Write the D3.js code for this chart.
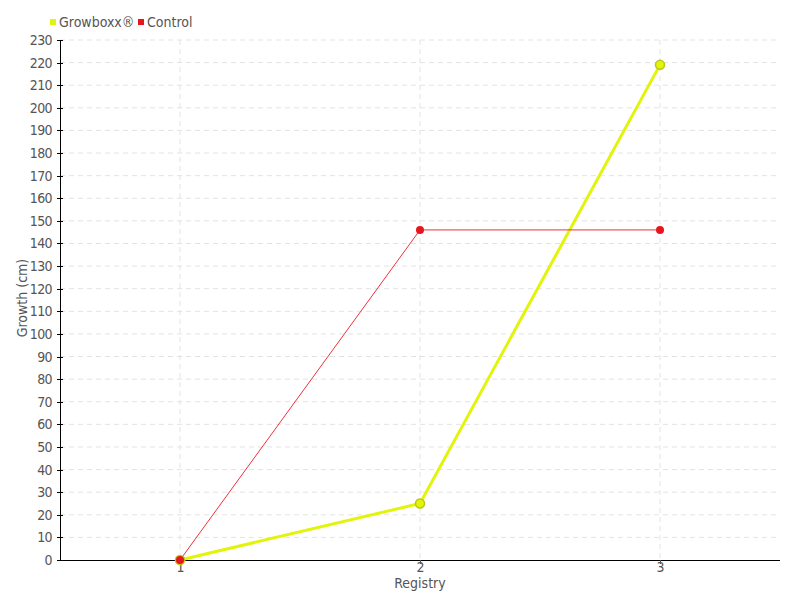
<!DOCTYPE html>
<html lang='en'>
<head>
<meta charset="utf-8">
<style>
body { margin: 0; background: #fff; }
svg text { font-family: "Liberation Sans Narrow", "DejaVu Sans Condensed", sans-serif; fill: #555; font-size: 14px; }
.grid line { stroke: #e3e3e3; stroke-dasharray: 5,4; }
.axis path, .axis line { stroke: #000; shape-rendering: crispEdges; }
</style>
</head>
<body>
<svg width="800" height="600"></svg>
<script src="https://cdn.jsdelivr.net/npm/d3@7/dist/d3.min.js"></script>
<script>
  var registry = [1, 2, 3],
      growboxx = [0, 25, 219],
      control = [0, 146, 146],
      yTicks = d3.range(0, 231, 10);

  var svg = d3.select("svg"),
      mLeft = 60, mRight = 780, mTop = 40, mBottom = 560;

  var x = d3.scalePoint().domain(registry).range([mLeft, mRight]).padding(0.5),
      y = d3.scaleLinear().domain([0, 230]).range([mBottom, mTop]);

  // grid
  svg.append("g").attr("class", "grid")
    .selectAll("line").data(yTicks.slice(1)).enter().append("line")
      .attr("x1", mLeft).attr("x2", mRight)
      .attr("y1", function(d) { return y(d); }).attr("y2", function(d) { return y(d); });
  svg.append("g").attr("class", "grid")
    .selectAll("line").data(registry).enter().append("line")
      .attr("y1", mTop).attr("y2", mBottom)
      .attr("x1", function(d) { return x(d); }).attr("x2", function(d) { return x(d); });

  var yAxis = svg.append("g").attr("class", "axis")
      .attr("transform", "translate(" + mLeft + ",0)")
      .call(d3.axisLeft(y).tickValues(yTicks).tickSizeInner(3).tickSizeOuter(0).tickPadding(5));
  yAxis.selectAll(".tick line").attr("x2", 3).attr("x1", -3);
  yAxis.selectAll("text").style("letter-spacing", "-0.6px");

  var xAxis = svg.append("g").attr("class", "axis")
      .attr("transform", "translate(0," + mBottom + ")")
      .call(d3.axisBottom(x).tickSizeInner(4).tickSizeOuter(0).tickPadding(0));
  xAxis.select(".domain").attr("d", "M" + mLeft + ",0.5H" + mRight);
  xAxis.selectAll(".tick line").style("stroke", "#555");
  xAxis.selectAll("text").attr("y", 2);

  svg.append("text").attr("x", (mLeft + mRight) / 2).attr("y", 588)
      .attr("text-anchor", "middle").text("Registry");
  svg.append("text").attr("transform", "translate(27,298) rotate(-90)")
      .attr("text-anchor", "middle").text("Growth (cm)");

  var line = d3.line()
      .x(function(d, i) { return x(registry[i]); })
      .y(function(d) { return y(d); });

  svg.append("path").datum(growboxx).attr("d", line)
      .attr("fill", "none").attr("stroke", "#e2f40a").attr("stroke-width", 3);
  svg.append("path").datum(control).attr("d", line)
      .attr("fill", "none").attr("stroke", "#f0303a").attr("stroke-width", 1);

  svg.selectAll(".g-pt").data(growboxx).enter().append("circle")
      .attr("cx", function(d, i) { return x(registry[i]); })
      .attr("cy", function(d) { return y(d); })
      .attr("r", 4.5).attr("fill", "#e2f40a").attr("stroke", "#b9c816").attr("stroke-width", 1.5);
  svg.selectAll(".c-pt").data(control).enter().append("circle")
      .attr("cx", function(d, i) { return x(registry[i]); })
      .attr("cy", function(d) { return y(d); })
      .attr("r", 4).attr("fill", "#e8141e");

  // legend
  var legend = [["Growboxx®", "#e2f40a", 50], ["Control", "#e8141e", 138]];
  legend.forEach(function(l) {
    svg.append("rect").attr("x", l[2]).attr("y", 19).attr("width", 6).attr("height", 6).attr("fill", l[1]);
    svg.append("text").attr("x", l[2] + 9).attr("y", 27).text(l[0]);
  });
</script>
</body>
</html>
